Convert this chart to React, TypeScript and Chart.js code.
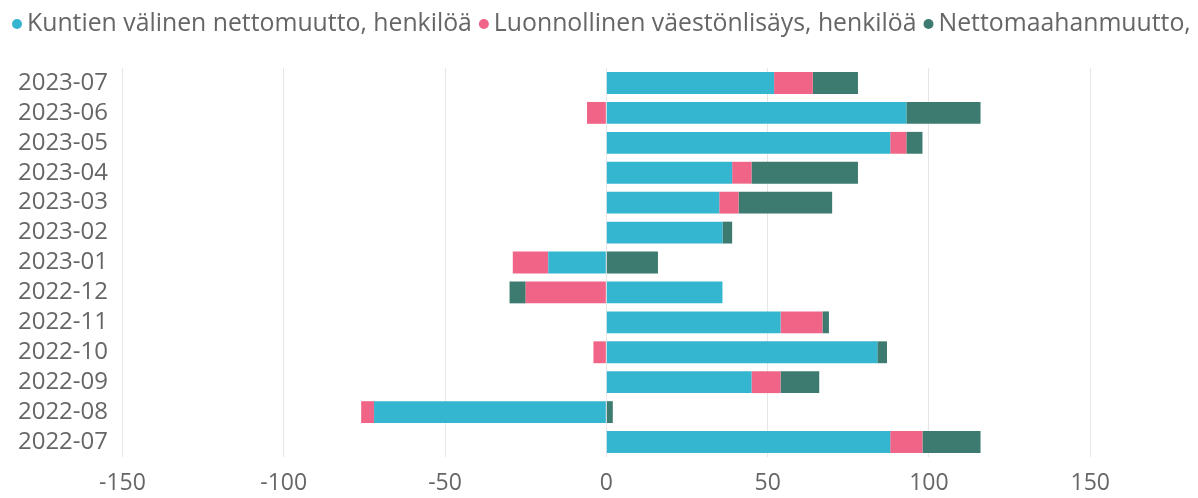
import React, { useEffect, useRef } from "react";
import { Chart, registerables } from "chart.js";

Chart.register(...registerables);

const categories = [
  "2023-07", "2023-06", "2023-05", "2023-04", "2023-03", "2023-02", "2023-01",
  "2022-12", "2022-11", "2022-10", "2022-09", "2022-08", "2022-07",
];
const kuntienValinen = [52, 93, 88, 39, 35, 36, -18, 36, 54, 84, 45, -72, 88];
const luonnollinen = [12, -6, 5, 6, 6, 0, -11, -25, 13, -4, 9, -4, 10];
const nettomaahanmuutto = [14, 23, 5, 33, 29, 3, 16, -5, 2, 3, 12, 2, 18];
const seriesLabels = [
  "Kuntien välinen nettomuutto, henkilöä",
  "Luonnollinen väestönlisäys, henkilöä",
  "Nettomaahanmuutto, henkilöä",
];
const colors = ["#35B6D0", "#EF6487", "#3D7B70"];
const xTicks = [-150, -100, -50, 0, 50, 100, 150];

const FONT = "'Open Sans', 'Noto Sans', sans-serif";

const legendPlugin = {
  id: "customLegend",
  afterDraw(chart: any) {
    const ctx = chart.ctx;
    ctx.save();
    ctx.beginPath();
    ctx.rect(0, 0, 1194, 50);
    ctx.clip();
    ctx.font = `24.8px ${FONT}`;
    ctx.textBaseline = "middle";
    let x = 27;
    const y = 24;
    seriesLabels.forEach((label, i) => {
      ctx.fillStyle = colors[i];
      ctx.beginPath();
      ctx.arc(x - 10, y, 5, 0, Math.PI * 2);
      ctx.fill();
      ctx.fillStyle = "#666666";
      ctx.fillText(label, x, y);
      x += ctx.measureText(label).width + 22;
    });
    ctx.restore();
  },
};

export default function App() {
  const ref = useRef<HTMLCanvasElement | null>(null);
  useEffect(() => {
    if (!ref.current) return;
    const chart = new Chart(ref.current, {
      type: "bar",
      data: {
        labels: categories,
        datasets: [kuntienValinen, luonnollinen, nettomaahanmuutto].map((d, i) => ({
          label: seriesLabels[i],
          data: d,
          backgroundColor: colors[i],
          borderWidth: 0,
          categoryPercentage: 0.73,
          barPercentage: 1,
        })),
      },
      options: {
        indexAxis: "y",
        animation: false,
        responsive: true,
        maintainAspectRatio: false,
        layout: { padding: { top: 68, left: 0, right: 11, bottom: 0 } },
        plugins: { legend: { display: false }, tooltip: { enabled: false } },
        scales: {
          x: {
            stacked: true,
            min: -152,
            max: 180,
            afterBuildTicks: (axis: any) => {
              axis.ticks = xTicks.map((v) => ({ value: v }));
            },
            afterFit: (axis: any) => {
              axis.height = 41;
            },
            grid: { color: "#E6E6E6", drawTicks: false, lineWidth: 1 },
            border: { display: false },
            ticks: {
              color: "#666666",
              font: { family: FONT, size: 23 },
              padding: 13,
              autoSkip: false,
              maxRotation: 0,
            },
          },
          y: {
            stacked: true,
            afterFit: (axis: any) => {
              axis.width = 116;
            },
            grid: { display: false, drawTicks: false },
            border: { display: false },
            ticks: {
              color: "#666666",
              font: { family: FONT, size: 24 },
              padding: 8,
              autoSkip: false,
            },
          },
        },
      },
      plugins: [legendPlugin],
    });
    return () => chart.destroy();
  }, []);
  return (
    <div style={{ position: "fixed", left: 0, top: 0, width: 1198, height: 498, background: "#fff" }}>
      <canvas ref={ref} />
    </div>
  );
}
